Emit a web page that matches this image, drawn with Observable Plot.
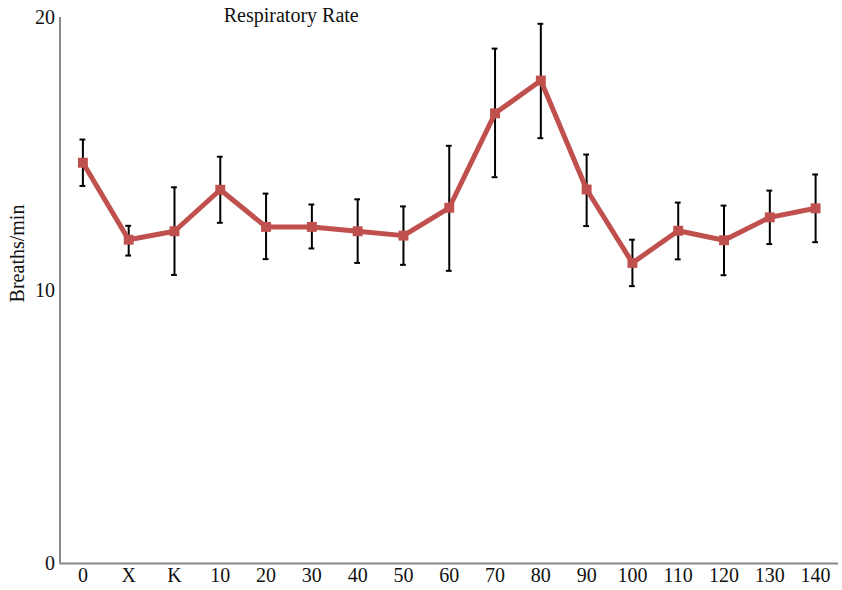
<!DOCTYPE html>
<html>
<head>
<meta charset="utf-8">
<script src="https://cdn.jsdelivr.net/npm/d3@7"></script>
<script src="https://cdn.jsdelivr.net/npm/@observablehq/plot@0.6"></script>
<style>
  html, body { margin: 0; padding: 0; background: #fff; }
  #chart svg { display: block; }
</style>
</head>
<body>
<div id="chart"></div>
<script>
const categories = ["0","X","K","10","20","30","40","50","60","70","80","90","100","110","120","130","140"];
const means = [14.68, 11.86, 12.17, 13.69, 12.33, 12.33, 12.17, 12.01, 13.03, 16.49, 17.69, 13.70, 11.01, 12.19, 11.84, 12.68, 13.01];
const upper = [15.53, 12.37, 13.78, 14.90, 13.55, 13.15, 13.34, 13.08, 15.30, 18.86, 19.77, 14.98, 11.86, 13.22, 13.11, 13.66, 14.25];
const lower = [13.83, 11.28, 10.57, 12.48, 11.15, 11.54, 11.01, 10.94, 10.72, 14.15, 15.58, 12.36, 10.16, 11.14, 10.56, 11.70, 11.77];
const yTicks = [0, 10, 20];
const title = "Respiratory Rate";
const yLabel = "Breaths/min";

const data = categories.map((c, i) => ({cat: c, mean: means[i], hi: upper[i], lo: lower[i]}));
const font = "'Liberation Serif', 'DejaVu Serif', serif";
const red = "#C0504D";

const chart = Plot.plot({
  width: 842,
  height: 590,
  marginLeft: 59.5,
  marginRight: 4,
  marginTop: 17,
  marginBottom: 27,
  style: {fontFamily: font, fontSize: "20px", color: "#111", background: "#fff"},
  x: {type: "band", domain: categories, padding: 0, round: false},
  y: {domain: [0, 20]},
  marks: [
    Plot.axisY({ticks: yTicks, tickSize: 0, tickPadding: 5, label: null, fontSize: 20}),
    Plot.axisX({tickSize: 0, tickPadding: 4, label: null, fontSize: 20}),
    Plot.ruleX([0], {x: () => categories[0], y1: 0, y2: 20, stroke: "#888", strokeWidth: 2, dx: -778.5 / 34}),
    Plot.ruleY([0], {stroke: "#888", strokeWidth: 2}),
    Plot.ruleX(data, {x: "cat", y1: "lo", y2: "hi", stroke: "#000", strokeWidth: 2}),
    Plot.tickY(data, {x: "cat", y: "hi", stroke: "#000", strokeWidth: 2, insetLeft: 20, insetRight: 20}),
    Plot.tickY(data, {x: "cat", y: "lo", stroke: "#000", strokeWidth: 2, insetLeft: 20, insetRight: 20}),
    Plot.line(data, {x: "cat", y: "mean", stroke: red, strokeWidth: 5, strokeLinejoin: "miter"}),
    Plot.dot(data, {x: "cat", y: "mean", symbol: "square", fill: red, r: 5.6}),
    Plot.text([title], {frameAnchor: "top", dx: -158, dy: -2.4, lineAnchor: "middle", fontSize: 20, fill: "#111"}),
    Plot.text([yLabel], {frameAnchor: "left", textAnchor: "middle", rotate: -90, dx: -42, dy: -37, fontSize: 20, fill: "#111"})
  ]
});
document.getElementById("chart").appendChild(chart);
</script>
</body>
</html>
